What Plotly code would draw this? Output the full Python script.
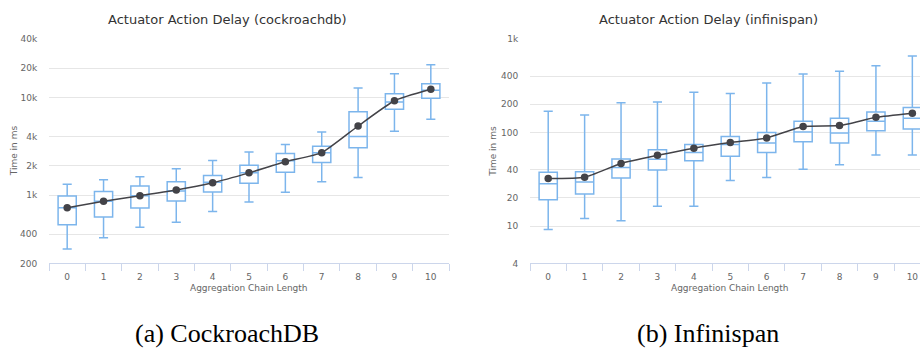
import math
import plotly.graph_objects as go

categories = [str(i) for i in range(11)]

# CockroachDB (ms)
c_low = [281, 366, 469, 529, 681, 851, 1071, 1371, 1520, 4520, 6000]
c_q1 = [499, 600, 741, 871, 1079, 1327, 1721, 2168, 3062, 7590, 9860]
c_med = [746, 865, 988, 1104, 1358, 1694, 2250, 2728, 3990, 9000, 11850]
c_q3 = [984, 1089, 1239, 1371, 1593, 2023, 2666, 3168, 7150, 10960, 13800]
c_high = [1297, 1436, 1547, 1870, 2270, 2765, 3296, 4448, 12500, 17500, 21680]
c_mean = [746, 865, 990, 1130, 1340, 1694, 2198, 2728, 5110, 9270, 12130]

# Infinispan (ms)
i_low = [9.2, 12.1, 11.4, 16.3, 16.3, 30.7, 33, 40.5, 45.2, 57.4, 57.4]
i_q1 = [19.2, 22.1, 32.6, 39.7, 49.8, 55.7, 61, 79.4, 77.4, 104, 108.6]
i_med = [28.4, 29.6, 42.4, 51.8, 61, 74.3, 77.4, 101, 98.6, 131.6, 141.5]
i_q3 = [37.6, 38.2, 52.2, 65.5, 74.3, 90.8, 100, 131.6, 141.5, 164.8, 184.5]
i_high = [168, 154, 208, 211, 268, 260, 337, 421, 450, 514, 655]
i_mean = [32.2, 33.3, 46.7, 57, 68, 78, 87.4, 115.6, 118.4, 145, 160.7]

c_ticks = [200, 400, 1000, 2000, 4000, 10000, 20000, 40000]
c_ticktext = ["200", "400", "1k", "2k", "4k", "10k", "20k", "40k"]
i_ticks = [4, 10, 20, 40, 100, 200, 400, 1000]
i_ticktext = ["4", "10", "20", "40", "100", "200", "400", "1k"]

titles = ["Actuator Action Delay (cockroachdb)", "Actuator Action Delay (infinispan)"]
xtitle = "Aggregation Chain Length"
ytitle = "Time in ms"
captions = ["(a) CockroachDB", "(b) Infinispan"]

W, H = 920, 354
BOX = "#7cb5ec"
MEAN = "#434348"
FONT = "DejaVu Sans"

fig = go.Figure()

def add_panel(low, q1, med, q3, high, mean, xa, ya):
    fig.add_trace(go.Box(
        x=categories, q1=q1, median=med, q3=q3, lowerfence=low, upperfence=high,
        xaxis=xa, yaxis=ya, boxpoints=False, width=0.5, whiskerwidth=0.5,
        line=dict(color=BOX, width=1.5), fillcolor="white", showlegend=False,
    ))
    fig.add_trace(go.Scatter(
        x=categories, y=mean, xaxis=xa, yaxis=ya, mode="lines+markers",
        line=dict(color=MEAN, width=1.5, shape="spline", smoothing=0.5),
        marker=dict(color=MEAN, size=7.5), showlegend=False,
    ))

add_panel(c_low, c_q1, c_med, c_q3, c_high, c_mean, "x", "y")
add_panel(i_low, i_q1, i_med, i_q3, i_high, i_mean, "x2", "y2")

ydom = [1 - 266 / H, 1 - 34.7 / H]
tickfont = dict(family=FONT, size=9, color="#666666")

def xaxis(domain, rng):
    return dict(domain=domain, type="category", range=rng, showline=True, linecolor="#ccd6eb",
                linewidth=1, ticks="outside", tickson="boundaries", ticklen=7, tickcolor="#ccd6eb",
                showgrid=False, zeroline=False, tickfont=tickfont, ticklabeloverflow="allow",
                ticklabelstandoff=5)

def yaxis(anchor, rng, tv, tt):
    return dict(domain=ydom, anchor=anchor, type="log", range=rng, tickvals=tv, ticktext=tt,
                showgrid=True, gridcolor="#e6e6e6", gridwidth=1, showline=False, zeroline=False,
                ticks="outside", ticklen=9, tickcolor="rgba(0,0,0,0)", tickfont=tickfont)

fig.update_layout(
    width=W, height=H, margin=dict(l=0, r=0, t=0, b=0),
    paper_bgcolor="white", plot_bgcolor="white",
    xaxis=dict(**xaxis([49 / W, 449 / W], [-0.5, 10.5]), anchor="y"),
    yaxis=yaxis("x", [math.log10(200), math.log10(40000)], c_ticks, c_ticktext),
    xaxis2=dict(**xaxis([530 / W, 1.0], [-0.5, 10.21]), anchor="y2"),
    yaxis2=yaxis("x2", [math.log10(4), math.log10(1000)], i_ticks, i_ticktext),
)

def ann(text, px, py, size, color, family=FONT, angle=0):
    fig.add_annotation(text=text, x=px / W, y=1 - py / H, xref="paper", yref="paper",
                       showarrow=False, xanchor="center", yanchor="middle", textangle=angle,
                       font=dict(family=family, size=size, color=color))

ann(titles[0], 227, 15, 13, "#333333")
ann(titles[1], 708, 15, 13, "#333333")
ann(xtitle, 249, 291, 9, "#666666")
ann(xtitle, 730, 291, 9, "#666666")
ann(ytitle, 13.5, 150, 9, "#666666", angle=-90)
ann(ytitle, 493, 150, 9, "#666666", angle=-90)
ann(captions[0], 227, 338, 26, "#000000", family="Liberation Serif")
ann(captions[1], 708, 338, 26, "#000000", family="Liberation Serif")

fig.write_html("out.html", config={"displayModeBar": False},
               post_script="document.body.style.margin='0';document.body.style.overflow='hidden';")
